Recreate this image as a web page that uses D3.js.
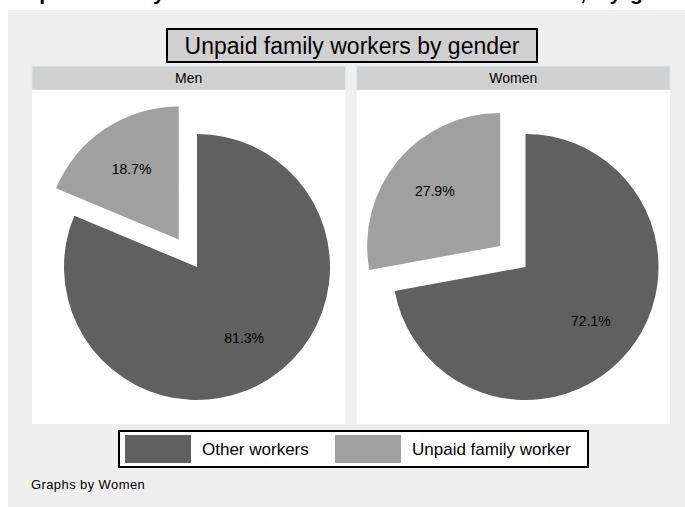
<!DOCTYPE html>
<html>
<head>
<meta charset="utf-8">
<script src="https://cdn.jsdelivr.net/npm/d3@7"></script>
<style>
  body { margin: 0; background: #fff; }
  svg { display: block; font-family: "Liberation Sans", Arial, sans-serif; }
</style>
</head>
<body>
<svg width="685" height="507"></svg>
<script>
// data
const panels = ["Men", "Women"];
const categories = ["Other workers", "Unpaid family worker"];
const menShares = [81.3, 18.7];
const womenShares = [72.1, 27.9];
const sliceColors = ["#606060", "#a0a0a0"];

const shares = { Men: menShares, Women: womenShares };

const svg = d3.select("svg");
const width = +svg.attr("width");
const height = +svg.attr("height");

// figure title, mostly cut off at the top of the image
svg.append("text")
  .attr("x", 8)
  .attr("y", 0)
  .attr("font-size", 21)
  .attr("font-weight", "bold")
  .attr("fill", "#000")
  .attr("textLength", 700)
  .attr("lengthAdjust", "spacing")
  .text("Unpaid family workers as a share of total workers, by gender");

// graph region
svg.append("rect")
  .attr("x", 8).attr("y", 10)
  .attr("width", width - 8).attr("height", height - 10)
  .attr("fill", "#efefef");

// title box
const titleG = svg.append("g");
titleG.append("rect")
  .attr("x", 167).attr("y", 29)
  .attr("width", 370).attr("height", 33)
  .attr("fill", "#d0d0d0")
  .attr("stroke", "#000")
  .attr("stroke-width", 2);
titleG.append("text")
  .attr("x", 352).attr("y", 54)
  .attr("text-anchor", "middle")
  .attr("font-size", 23)
  .text("Unpaid family workers by gender");

const xBand = d3.scaleBand()
  .domain(panels)
  .range([32, 670])
  .paddingInner(0.034);

const headerTop = 66, headerH = 24, plotBottom = 424;
const radius = 133;

const pie = d3.pie().sort(null).value(d => d);
const arc = d3.arc().innerRadius(0).outerRadius(radius);
const labelArc = d3.arc().innerRadius(radius * 0.64).outerRadius(radius * 0.64);
const explode = 33;

panels.forEach((p, k) => {
  const x0 = xBand(p);
  const g = svg.append("g");

  g.append("rect")
    .attr("x", x0).attr("y", headerTop)
    .attr("width", xBand.bandwidth()).attr("height", headerH)
    .attr("fill", "#d0d0d0")
    .attr("stroke", "#dce8ee")
    .attr("stroke-width", 1);
  g.append("text")
    .attr("x", x0 + xBand.bandwidth() / 2)
    .attr("y", headerTop + 17)
    .attr("text-anchor", "middle")
    .attr("font-size", 14)
    .text(p);

  g.append("rect")
    .attr("x", x0).attr("y", headerTop + headerH)
    .attr("width", xBand.bandwidth()).attr("height", plotBottom - headerTop - headerH)
    .attr("fill", "#fff");

  const cx = x0 + (k === 0 ? 165 : 169), cy = 267;
  const slices = pie(shares[p]);

  const sg = g.selectAll("g.slice").data(slices).enter().append("g")
    .attr("class", "slice")
    .attr("transform", (d, i) => {
      if (i !== 1) return `translate(${cx},${cy})`;
      const a = (d.startAngle + d.endAngle) / 2;
      return `translate(${cx + Math.sin(a) * explode},${cy - Math.cos(a) * explode})`;
    });

  sg.append("path")
    .attr("d", arc)
    .attr("fill", (d, i) => sliceColors[i]);

  sg.append("text")
    .attr("transform", d => `translate(${labelArc.centroid(d)})`)
    .attr("dy", "0.35em")
    .attr("text-anchor", "middle")
    .attr("font-size", 14)
    .text(d => d.data.toFixed(1) + "%");
});

// legend
const leg = svg.append("g");
leg.append("rect")
  .attr("x", 119).attr("y", 431)
  .attr("width", 469).attr("height", 36)
  .attr("fill", "#fff")
  .attr("stroke", "#000")
  .attr("stroke-width", 2);
const legX = [125, 335];
categories.forEach((c, i) => {
  leg.append("rect")
    .attr("x", legX[i]).attr("y", 435)
    .attr("width", 66).attr("height", 28)
    .attr("fill", sliceColors[i]);
  leg.append("text")
    .attr("x", legX[i] + 77).attr("y", 455)
    .attr("font-size", 17)
    .text(c);
});

svg.append("text")
  .attr("x", 31).attr("y", 489)
  .attr("font-size", 13)
  .attr("letter-spacing", 0.4)
  .text("Graphs by Women");
</script>
</body>
</html>
